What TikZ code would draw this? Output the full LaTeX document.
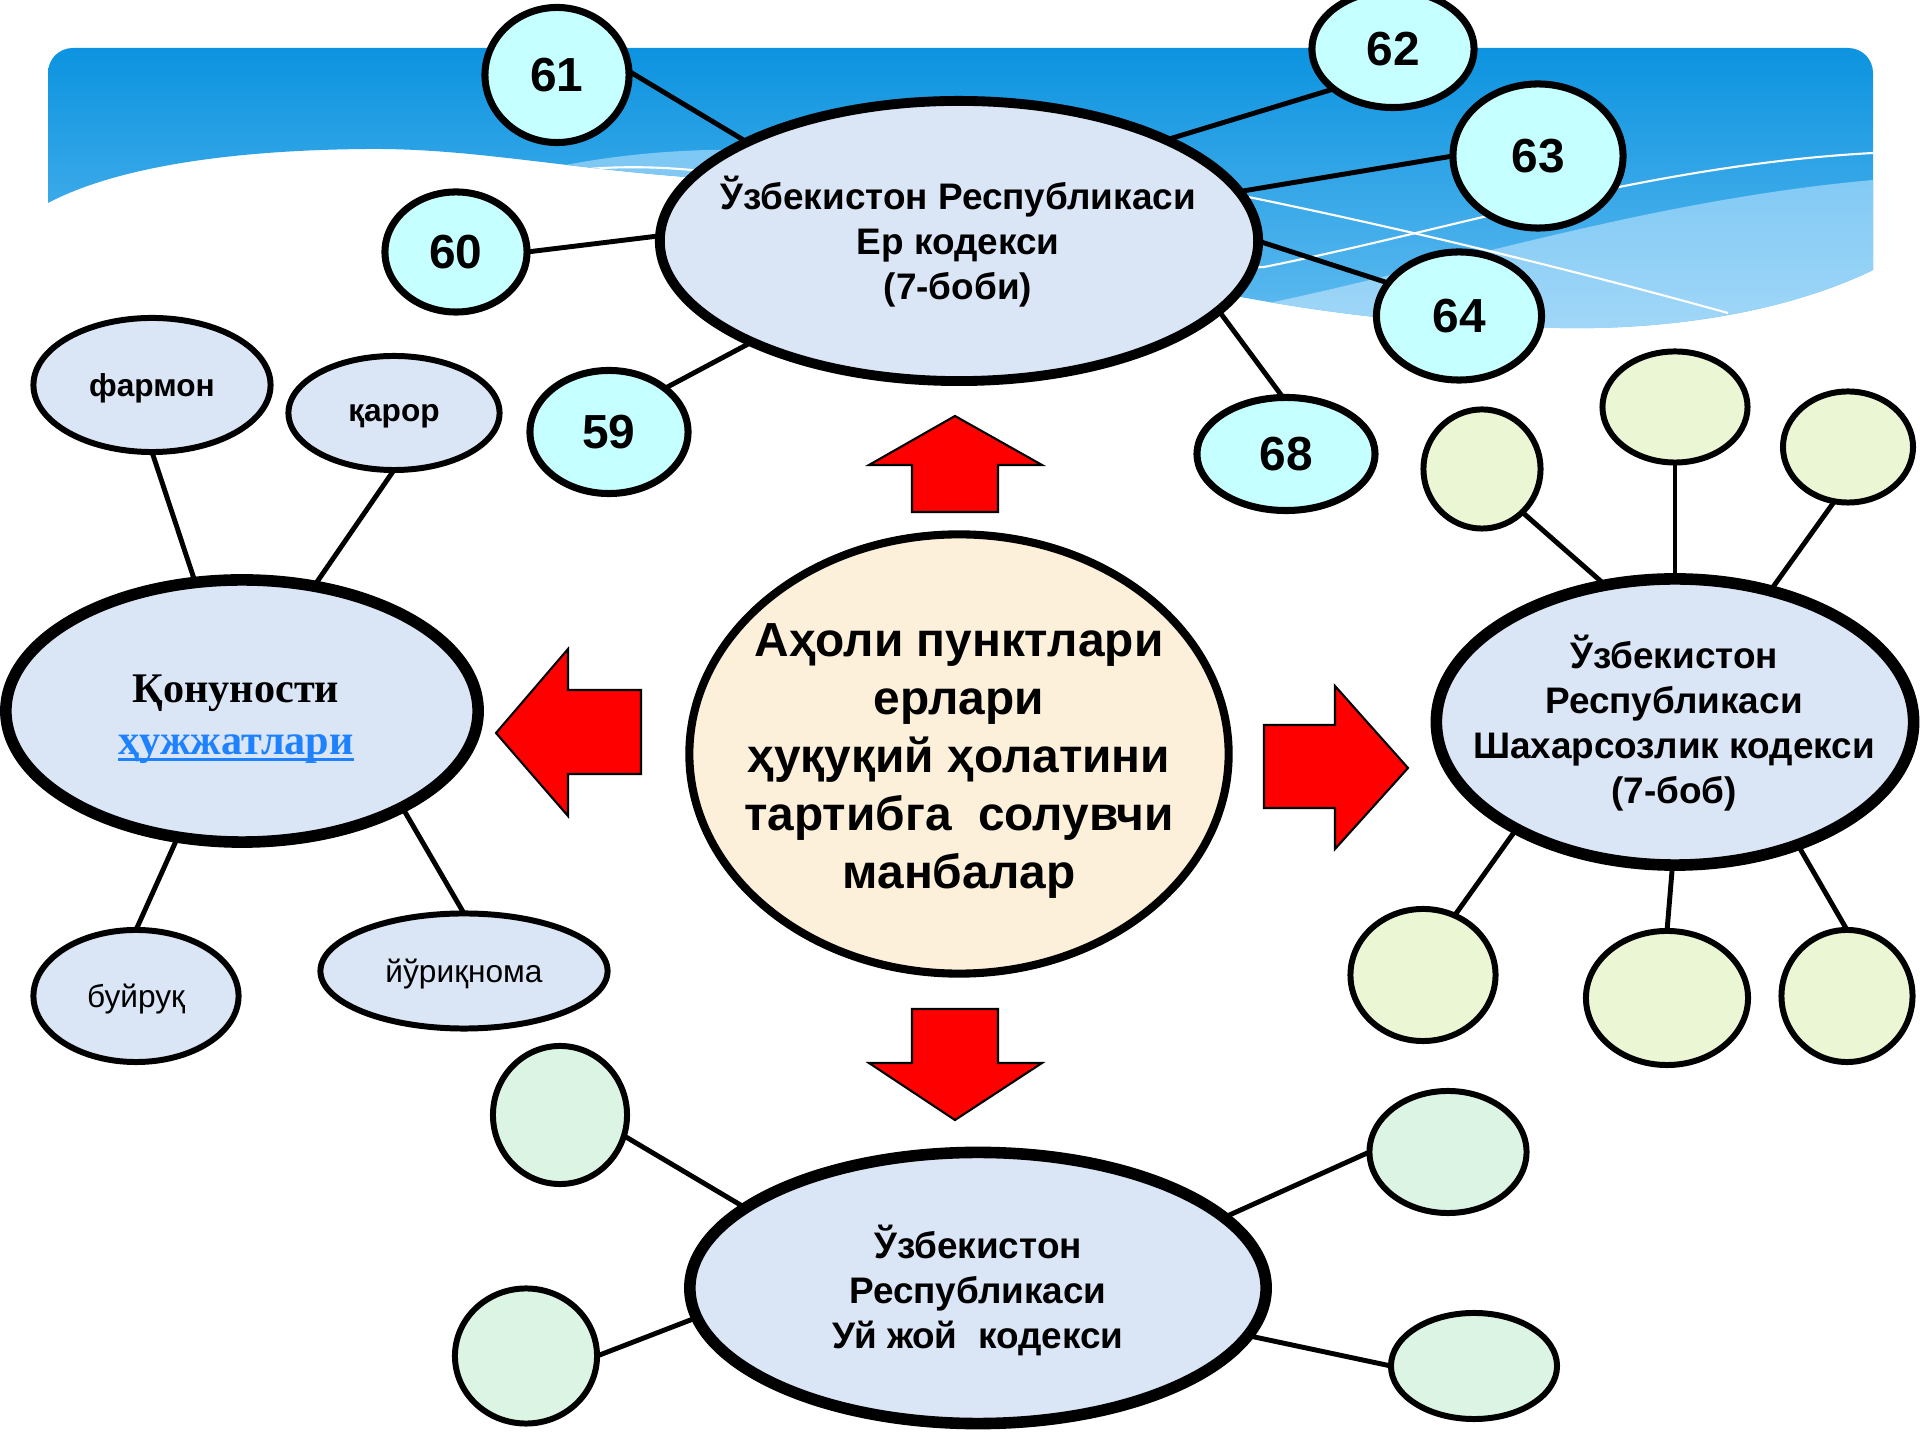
\documentclass[tikz,border=0pt]{standalone}
\usepackage{fontspec}
\setmainfont{Liberation Sans}
\newfontfamily\seriffam{Liberation Serif}
\usetikzlibrary{shapes.geometric}
\definecolor{ellblue}{HTML}{DAE5F5}
\definecolor{cream}{HTML}{FDF0DA}
\definecolor{numcyan}{HTML}{C5FFFF}
\definecolor{rgreen}{HTML}{EBF6D5}
\definecolor{bgreen}{HTML}{DCF4E3}
\definecolor{linkblue}{HTML}{1E82FF}
\definecolor{bantop}{HTML}{0A92DF}
\definecolor{banbot}{HTML}{62BCF0}
\definecolor{bandtop}{HTML}{7CC7F4}
\definecolor{bandbot}{HTML}{AEDDF9}
\newcommand\ulblue[1]{\setbox0\hbox{#1}\leavevmode\rlap{\rule[-0.17em]{\wd0}{0.07em}}\box0}
\begin{document}
\begin{tikzpicture}[x=0.01cm,y=-0.01cm,
 ell/.style={ellipse,draw=black,inner sep=0pt,outer sep=0pt},
 bigell/.style={ell,fill=ellblue,line width=3.3pt},
 numell/.style={ell,fill=numcyan,line width=2pt,font=\bfseries\fontsize{13.6}{16}\selectfont},
 smallell/.style={ell,fill=ellblue,line width=1.7pt,text depth=0pt,font=\fontsize{9}{11}\selectfont},
 greenell/.style={ell,fill=rgreen,line width=1.7pt},
 mintell/.style={ell,fill=bgreen,line width=1.7pt},
 lnk/.style={line width=1.4pt},
 txt/.style={align=center,inner sep=0pt},
 maintxt/.style={txt,font=\bfseries\fontsize{10.5}{12.8}\selectfont},
 redarrow/.style={fill=red,draw=black,line width=0.6pt,line join=miter}
]
\useasboundingbox (0,0) rectangle (1920,1440);
\fill[white] (0,0) rectangle (1920,1440);
% banner
\begin{scope}
\clip (48,203) -- (48,73) .. controls (48,59) and (59,48) .. (73,48) -- (1848,48)
 .. controls (1862,48) and (1873,59) .. (1873,73) -- (1873,270)
 .. controls (1780,315) and (1660,330) .. (1560,328)
 .. controls (1420,326) and (1320,312) .. (1230,295)
 .. controls (1050,262) and (850,190) .. (700,178)
 .. controls (560,168) and (470,148) .. (367,149)
 .. controls (240,150) and (120,165) .. (48,203) -- cycle;
\shade[top color=bantop,bottom color=banbot] (40,40) rectangle (1880,335);
\shade[top color=bandtop,bottom color=bandbot] (520,175) .. controls (600,155) and (680,148) .. (760,150)
 .. controls (950,155) and (1100,290) .. (1269,303)
 .. controls (1450,265) and (1650,200) .. (1873,180) -- (1900,180) -- (1900,400) -- (500,400) -- cycle;
\draw[white,line width=0.6pt] (560,172) .. controls (800,140) and (1000,280) .. (1264,267)
 .. controls (1450,230) and (1650,165) .. (1873,153);
\draw[white,line width=0.6pt] (1100,168) .. controls (1300,205) and (1500,250) .. (1728,313);
\end{scope}
% red arrows
\filldraw[redarrow] (955,416) -- (1042,465) -- (998,465) -- (998,512) -- (912,512) -- (912,465) -- (869,465) -- cycle;
\filldraw[redarrow] (496,733) -- (568,649) -- (568,690) -- (641,690) -- (641,774) -- (568,774) -- (568,816) -- cycle;
\filldraw[redarrow] (1408,768) -- (1335,849) -- (1335,808) -- (1264,808) -- (1264,725) -- (1335,725) -- (1335,686) -- cycle;
\filldraw[redarrow] (955,1120) -- (869,1063) -- (912,1063) -- (912,1009) -- (998,1009) -- (998,1063) -- (1042,1063) -- cycle;
% main ellipses
\node[bigell,line width=2.8pt,minimum width=5.98cm,minimum height=2.80cm] (T) at (959,241) {};
\node[maintxt] (Tt) at (958,242) {Ўзбекистон Республикаси\\Ер кодекси\\(7-боби)};
\node[ell,fill=cream,line width=2.3pt,minimum width=5.39cm,minimum height=4.39cm] (C) at (959,754) {};
\node[txt,font=\bfseries\fontsize{13.6}{16.5}\selectfont] (Ct) at (959,761) {Аҳоли пунктлари\\ерлари\\ҳуқуқий ҳолатини\\тартибга\ \ солувчи\\манбалар};
\node[bigell,minimum width=4.72cm,minimum height=2.62cm] (L) at (242,711) {};
\node[txt,font=\seriffam\bfseries\fontsize{12}{14.7}\selectfont] (Lt) at (236,719) {Қонуности\\\textcolor{linkblue}{\ulblue{ҳужжатлари}}};
\node[bigell,minimum width=4.77cm,minimum height=2.86cm] (R) at (1675,722) {};
\node[maintxt] (Rt) at (1674,723) {Ўзбекистон\\Республикаси\\Шахарсозлик кодекси\\(7-боб)};
\node[bigell,minimum width=5.76cm,minimum height=2.71cm] (B) at (978,1288) {};
\node[maintxt] (Bt) at (978,1290) {Ўзбекистон\\Республикаси\\Уй жой\ \ кодекси};
% numbered
\node[numell,minimum width=1.44cm,minimum height=1.35cm] (n61) at (557,75) {61};
\node[numell,minimum width=1.62cm,minimum height=1.17cm] (n62) at (1393,49) {62};
\node[numell,minimum width=1.70cm,minimum height=1.44cm] (n63) at (1538,156) {63};
\node[numell,minimum width=1.42cm,minimum height=1.20cm] (n60) at (456,252) {60};
\node[numell,minimum width=1.65cm,minimum height=1.28cm] (n64) at (1459,316) {64};
\node[numell,minimum width=1.58cm,minimum height=1.23cm] (n59) at (609,432) {59};
\node[numell,minimum width=1.78cm,minimum height=1.13cm] (n68) at (1286,454) {68};
% left small
\node[smallell,font=\bfseries\fontsize{9}{11}\selectfont,minimum width=2.37cm,minimum height=1.34cm] (far) at (152,385) {фармон};
\node[smallell,font=\bfseries\fontsize{9}{11}\selectfont,minimum width=2.11cm,minimum height=1.14cm] (qar) at (394,413) {қарор};
\node[smallell,minimum width=2.05cm,minimum height=1.32cm] (buy) at (136,996) {буйруқ};
\node[smallell,minimum width=2.87cm,minimum height=1.15cm] (yur) at (464,971) {йўриқнома};
% right small
\node[greenell,minimum width=1.17cm,minimum height=1.19cm] (R1) at (1482,469) {};
\node[greenell,minimum width=1.45cm,minimum height=1.11cm] (R2) at (1675,407) {};
\node[greenell,minimum width=1.30cm,minimum height=1.11cm] (R3) at (1848,447) {};
\node[greenell,minimum width=1.45cm,minimum height=1.32cm] (R4) at (1423,975) {};
\node[greenell,minimum width=1.62cm,minimum height=1.34cm] (R5) at (1667,998) {};
\node[greenell,minimum width=1.31cm,minimum height=1.32cm] (R6) at (1847,996) {};
% bottom small
\node[mintell,minimum width=1.34cm,minimum height=1.38cm] (B1) at (560,1115) {};
\node[mintell,minimum width=1.42cm,minimum height=1.35cm] (B2) at (526,1356) {};
\node[mintell,minimum width=1.57cm,minimum height=1.22cm] (B3) at (1448,1152) {};
\node[mintell,minimum width=1.66cm,minimum height=1.06cm] (B4) at (1474,1366) {};
% connectors
\draw[lnk] (T.155) -- (n61.3);
\draw[lnk] (T.26) -- (n62.214);
\draw[lnk] (T.10) -- (n63.180);
\draw[lnk] (T.179) -- (n60.0);
\draw[lnk] (T.0) -- (n64.155);
\draw[lnk] (T.206) -- (n59.38);
\draw[lnk] (T.-15) -- (n68.93);
\draw[lnk] (L.110) -- (far.-90);
\draw[lnk] (L.60) -- (qar.-90);
\draw[lnk] (L.243) -- (buy.90);
\draw[lnk] (L.-31) -- (yur.90);
\draw[lnk] (R.117) -- (R1.-47);
\draw[lnk] (R.90) -- (R2.-90);
\draw[lnk] (R.54) -- (R3.256);
\draw[lnk] (R.214) -- (R4.62);
\draw[lnk] (R.269) -- (R5.90);
\draw[lnk] (R.-45) -- (R6.90);
\draw[lnk] (B.161) -- (B1.-18);
\draw[lnk] (B.186) -- (B2.0);
\draw[lnk] (B.16) -- (B3.180);
\draw[lnk] (B.-10) -- (B4.180);
\end{tikzpicture}
\end{document}
